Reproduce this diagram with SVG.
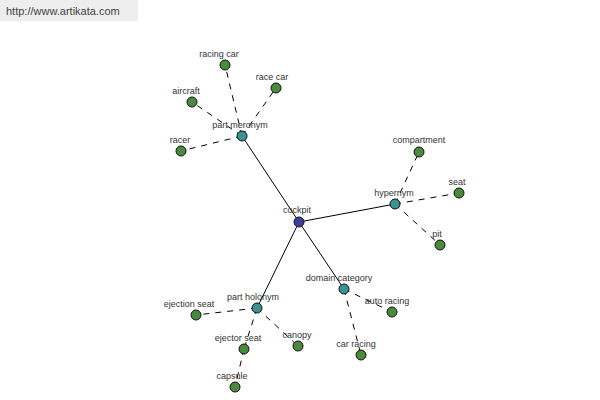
<svg xmlns="http://www.w3.org/2000/svg" width="600" height="400" viewBox="0 0 600 400">
<style>
text{font-family:"Liberation Sans",Arial,sans-serif;font-size:9px;fill:#333;text-anchor:middle}
.leaf{fill:#4a8a3c;stroke:#111;stroke-width:1}
.hub{fill:#3a9292;stroke:#111;stroke-width:1}
.root{fill:#3e3ea0;stroke:#111;stroke-width:1}
.s{stroke:#000;stroke-width:1;fill:none}
.d{stroke:#000;stroke-width:1;fill:none;stroke-dasharray:6,6}
</style>
<rect width="600" height="400" fill="#fff"/>
<rect x="0" y="0" width="138" height="21" fill="#eeeeee"/>
<text x="6" y="15" style="text-anchor:start;font-size:11px;fill:#444">http://www.artikata.com</text>
<g id="connectors">
<line class="s" x1="299" y1="222" x2="242" y2="136"/>
<line class="s" x1="299" y1="222" x2="395" y2="204"/>
<line class="s" x1="299" y1="222" x2="344" y2="289"/>
<line class="s" x1="299" y1="222" x2="257" y2="308"/>
<line class="d" x1="242" y1="136" x2="225" y2="65"/>
<line class="d" x1="242" y1="136" x2="276" y2="88"/>
<line class="d" x1="242" y1="136" x2="192" y2="102"/>
<line class="d" x1="242" y1="136" x2="181" y2="151"/>
<line class="d" x1="395" y1="204" x2="419" y2="152"/>
<line class="d" x1="395" y1="204" x2="459" y2="193"/>
<line class="d" x1="395" y1="204" x2="440" y2="245"/>
<line class="d" x1="344" y1="289" x2="392" y2="312"/>
<line class="d" x1="344" y1="289" x2="361" y2="355"/>
<line class="d" x1="257" y1="308" x2="196" y2="315"/>
<line class="d" x1="257" y1="308" x2="244" y2="349"/>
<line class="d" x1="257" y1="308" x2="298" y2="346"/>
<line class="d" x1="244" y1="349" x2="235" y2="387"/>
</g>
<g id="cockpit"><circle class="root" cx="299" cy="222" r="5"/><text x="297" y="213">cockpit</text></g>
<g id="part-meronym"><circle class="hub" cx="242" cy="136" r="5"/><text x="240" y="128">part meronym</text></g>
<g id="racing-car"><circle class="leaf" cx="225" cy="65" r="5"/><text x="219" y="57">racing car</text></g>
<g id="race-car"><circle class="leaf" cx="276" cy="88" r="5"/><text x="272" y="80">race car</text></g>
<g id="aircraft"><circle class="leaf" cx="192" cy="102" r="5"/><text x="186" y="94">aircraft</text></g>
<g id="racer"><circle class="leaf" cx="181" cy="151" r="5"/><text x="180" y="143">racer</text></g>
<g id="hypernym"><circle class="hub" cx="395" cy="204" r="5"/><text x="394" y="196">hypernym</text></g>
<g id="compartment"><circle class="leaf" cx="419" cy="152" r="5"/><text x="419" y="143">compartment</text></g>
<g id="seat"><circle class="leaf" cx="459" cy="193" r="5"/><text x="457" y="185">seat</text></g>
<g id="pit"><circle class="leaf" cx="440" cy="245" r="5"/><text x="437" y="237">pit</text></g>
<g id="domain-category"><circle class="hub" cx="344" cy="289" r="5"/><text x="339" y="281">domain category</text></g>
<g id="auto-racing"><circle class="leaf" cx="392" cy="312" r="5"/><text x="387" y="304">auto racing</text></g>
<g id="car-racing"><circle class="leaf" cx="361" cy="355" r="5"/><text x="356" y="347">car racing</text></g>
<g id="part-holonym"><circle class="hub" cx="257" cy="308" r="5"/><text x="253" y="300">part holonym</text></g>
<g id="ejection-seat"><circle class="leaf" cx="196" cy="315" r="5"/><text x="189" y="307">ejection seat</text></g>
<g id="ejector-seat"><circle class="leaf" cx="244" cy="349" r="5"/><text x="238" y="341">ejector seat</text></g>
<g id="capsule"><circle class="leaf" cx="235" cy="387" r="5"/><text x="232" y="379">capsule</text></g>
<g id="canopy"><circle class="leaf" cx="298" cy="346" r="5"/><text x="297" y="338">canopy</text></g>
</svg>
